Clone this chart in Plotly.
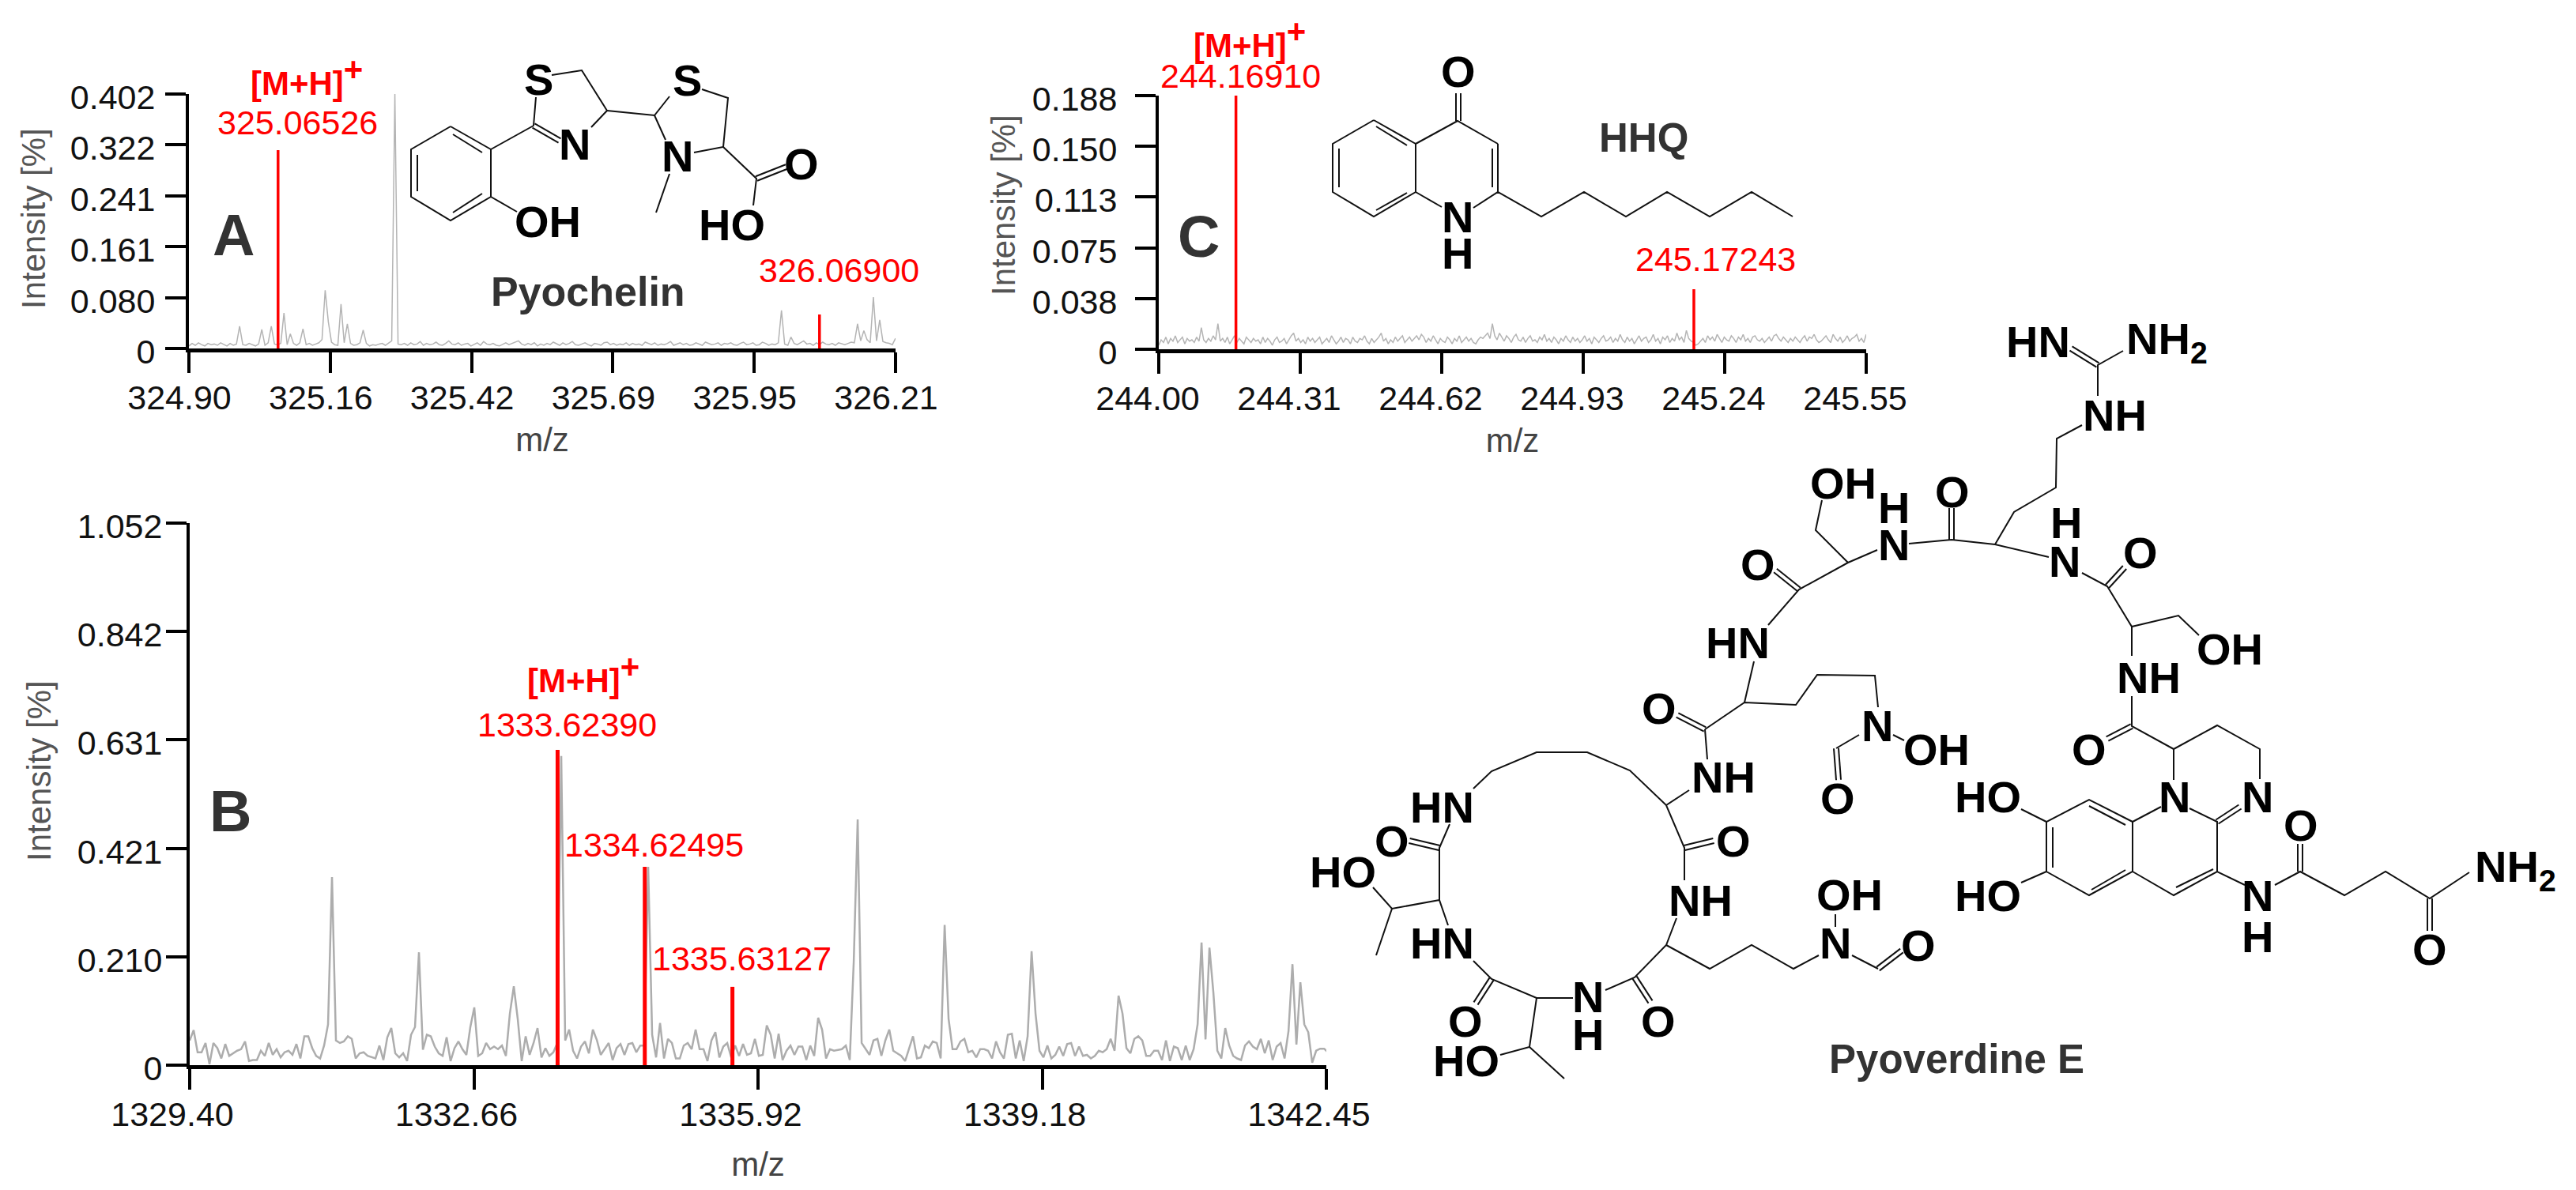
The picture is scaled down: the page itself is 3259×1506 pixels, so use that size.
import math
import numpy as np
import plotly.graph_objects as go

W, H = 3259, 1506
FONT = "Liberation Sans"

# ---------- spectra (intensity in thousandths of a percent, even m/z sampling) ----------
a_mz_start, a_mz_end = 324.90, 326.21
a_intensity = [
4,8,5,9,6,4,8,6,7,5, 9,6,4,8,5,7,35,6,5,8, 6,4,7,30,5,9,35,7,6,8,
56,6,23,8,5,9,31,6,8,5, 7,9,14,92,42,10,6,5,70,9, 39,8,5,6,9,29,8,4,6,5,
7,8,5,9,12,402,7,6,8,5, 9,6,7,11,5,8,6,7,10,6, 5,8,12,7,6,9,5,7,8,4,
6,9,5,11,7,6,8,5,4,7, 9,6,8,10,12,7,5,8,6,9, 4,7,5,8,6,10,7,5,9,6,
8,11,6,5,7,9,6,4,8,7, 5,9,10,6,8,5,7,6,9,5, 8,6,7,5,10,8,6,9,5,7,
6,8,11,5,7,9,6,8,5,6, 9,7,5,10,8,6,7,9,5,8, 7,9,6,5,8,10,6,7,9,5,
6,10,8,5,7,6,9,60,7,5,
18,8,6,9,12,7,8,5,9,6, 10,7,6,8,5,9,7,6,8,10, 9,39,12,28,14,9,81,12,45,11,
9,8,6,16
]

c_mz_start, c_mz_end = 244.00, 245.55
c_intensity = [
3,7,5,9,4,8,6,10,5,7, 9,4,8,6,7,5,9,6,16,7, 5,8,6,10,7,19,6,8,5,9,
4,7,10,5,8,6,4,9,7,5, 8,6,7,4,9,5,8,6,3,7, 9,5,6,8,4,7,10,12,6,8,
5,7,4,9,6,8,5,7,9,4, 6,8,5,10,7,4,6,9,5,8, 7,4,9,6,5,8,7,10,6,4,
8,5,7,9,12,6,8,4,7,5, 9,6,8,10,5,7,9,6,8,10, 7,11,9,5,8,6,10,7,4,8,
6,5,9,7,4,8,6,10,5,7, 9,6,8,5,4,7,9,8,10,12, 8,19,10,7,12,9,6,10,8,5,
9,11,7,6,9,5,8,10,6,7, 5,9,7,11,6,8,5,9,7,4, 8,6,10,7,5,9,6,8,5,7,
10,6,8,4,9,7,5,8,10,6, 7,9,5,8,6,11,7,5,9,6, 8,4,7,10,6,8,9,5,7,11,
6,8,4,9,7,10,5,8,6,12, 7,9,5,14,8,6,5,3,4,6, 8,5,10,7,9,6,11,8,5,9,
7,6,10,8,5,9,7,11,6,8, 5,9,10,7,6,8,5,7,9,6, 10,11,8,6,9,7,5,8,6,9,
7,5,8,10,6,9,8,11,7,5, 6,8,10,7,5,11,8,6,9,5, 7,10,6,8,9,11,6,8,5,11
]

b_mz_start, b_step = 1329.40, 0.04538
b_intensity = [
48,68,25,25,43,2,43,33,13,41,18,23,28,31,46,8,10,10,28,18,43,20,31,15,
25,28,20,41,13,56,56,33,18,13,38,79,365,48,43,46,56,51,13,23,25,18,15,13,
38,10,54,72,23,15,23,8,59,74,219,30,59,56,36,23,18,54,8,33,46,31,20,74,
112,18,23,43,31,36,31,38,18,100,153,89,8,56,20,43,72,15,33,18,25,43,600,48,
69,28,13,36,46,23,69,49,20,31,43,10,33,41,20,41,43,25,38,38,385,59,15,82,
13,51,43,13,13,38,43,31,69,31,31,8,48,64,15,36,43,15,38,18,41,20,23,51,
18,20,77,59,13,61,10,28,38,20,36,36,10,38,18,92,69,13,31,28,29,31,38,10,
200,477,43,31,20,48,51,18,48,69,28,23,18,8,31,56,13,15,38,33,46,43,13,272,
90,31,31,46,51,25,28,15,31,31,28,13,46,25,13,59,61,13,48,8,56,221,100,28,
15,38,13,20,36,18,41,43,18,36,18,20,13,18,28,25,31,51,28,135,100,33,23,51,
56,48,18,18,28,28,10,48,8,36,33,10,38,10,31,79,238,50,228,140,28,13,72,38,
18,13,10,38,46,36,31,51,23,48,10,36,43,13,66,196,40,161,79,64,5,28,32,32,
25,20
]

# ---------- annotated isotope peaks ----------
a_peak_mz = [325.06526, 326.06900]
a_peak_int = [0.3134, 0.0537]
c_peak_mz = [244.16910, 245.17243]
c_peak_int = [0.188, 0.0445]
b_peak_mz = [1333.62390, 1334.62495, 1335.63127]
b_peak_int = [0.612, 0.385, 0.152]

# ---------- axis ticks ----------
a_xticks = [324.90, 325.162, 325.424, 325.686, 325.948, 326.21]
a_xlabels = ["324.90", "325.16", "325.42", "325.69", "325.95", "326.21"]
a_yticks = [0, 0.0804, 0.1608, 0.2412, 0.3216, 0.402]
a_ylabels = ["0", "0.080", "0.161", "0.241", "0.322", "0.402"]
c_xticks = [244.00, 244.31, 244.62, 244.93, 245.24, 245.55]
c_xlabels = ["244.00", "244.31", "244.62", "244.93", "245.24", "245.55"]
c_yticks = [0, 0.0376, 0.0752, 0.1128, 0.1504, 0.188]
c_ylabels = ["0", "0.038", "0.075", "0.113", "0.150", "0.188"]
b_xticks = [1329.40, 1332.6625, 1335.925, 1339.1875, 1342.45]
b_xlabels = ["1329.40", "1332.66", "1335.92", "1339.18", "1342.45"]
b_yticks = [0, 0.2104, 0.4208, 0.6312, 0.8416, 1.052]
b_ylabels = ["0", "0.210", "0.421", "0.631", "0.842", "1.052"]

# ---------- structures: bond polylines on the page ----------
single_bonds = [
 # pyochelin
 [(570,160),(621,189),(621,249),(570,279),(520,249),(520,189),(570,160)],
 [(573,170),(610,193)], [(528,196),(528,242)], [(610,245),(573,269)],
 [(621,189),(675,159),(678,123)], [(698,95),(736,89),(768,140),(748,161)],
 [(768,140),(828,146),(847,122)], [(888,113),(921,124),(915,186),(878,193)],
 [(828,146),(842,177)], [(847,220),(830,269)], [(915,186),(957,226),(953,260)],
 [(621,249),(654,268)],
 # HHQ
 [(1738,152),(1791,182),(1791,243),(1738,274),(1686,243),(1686,182),(1738,152)],
 [(1741,160),(1780,184)], [(1694,188),(1694,237)], [(1741,266),(1780,244)],
 [(1791,182),(1844,153),(1895,182)], [(1791,243),(1824,262)],
 [(1864,263),(1895,243),(1950,274),(2004,243),(2057,274),(2109,243),(2163,274),(2216,243),(2268,274)],
 [(1895,182),(1895,243)], [(1888,188),(1888,237)],
 # pyoverdine: macrocycle
 [(1864,998),(1887,976),(1944,952),(2008,952),(2062,975),(2108,1019),(2131,1073),(2131,1114)],
 [(2108,1019),(2137,1000)],
 [(2121,1162),(2108,1196),(2068,1237),(2031,1253)],
 [(1990,1263),(1944,1263),(1887,1239),(1864,1216)],
 [(1944,1263),(1935,1325),(1898,1335)], [(1935,1325),(1979,1365)],
 [(1832,1171),(1821,1139),(1821,1073),(1834,1043)],
 [(1821,1139),(1761,1150),(1737,1123)], [(1761,1150),(1741,1209)],
 [(2108,1196),(2163,1226),(2216,1196),(2269,1226),(2301,1209)],
 [(2322,1173),(2322,1157)], [(2343,1209),(2376,1226)],
 # pyoverdine: upper chain
 [(2157,923),(2160,961)], [(2157,923),(2207,889),(2272,892),(2299,854),(2372,855),(2376,895)],
 [(2352,930),(2323,947)], [(2395,930),(2409,937)],
 [(2207,889),(2219,837)], [(2237,791),(2276,746),(2338,712),(2375,696)],
 [(2338,712),(2297,671),(2305,633)],
 [(2415,688),(2469,683),(2524,689),(2592,705)],
 [(2524,689),(2548,648),(2601,617),(2602,555),(2634,538)],
 [(2654,501),(2654,462),(2686,444)],
 [(2634,725),(2666,742),(2697,793),(2756,779),(2782,804)],
 [(2697,793),(2697,830)], [(2697,881),(2697,919),(2750,948),(2805,918),(2859,948),(2859,986)],
 [(2750,948),(2750,987)],
 [(2770,1023),(2805,1040),(2805,1103)], [(2734,1021),(2698,1040)],
 [(2698,1040),(2643,1012),(2589,1040),(2589,1103),(2643,1133),(2698,1103),(2698,1040)],
 [(2643,1020),(2689,1044)], [(2597,1047),(2597,1098)], [(2646,1126),(2689,1101)],
 [(2698,1103),(2750,1133),(2805,1103),(2840,1120)], [(2753,1123),(2800,1100)],
 [(2557,1024),(2589,1040)], [(2557,1117),(2589,1103)],
 [(2878,1120),(2910,1103),(2966,1133),(3018,1103),(3074,1137),(3124,1104)],
]
double_bonds = [
 ((675,159),(708,178)), ((957,226),(995,211)), ((1845,118),(1845,153)),
 ((2131,1073),(2168,1064)), ((2068,1237),(2088,1268)), ((1887,1239),(1867,1270)),
 ((1821,1073),(1783,1064)), ((2376,1226),(2406,1203)), ((2157,923),(2122,905)),
 ((2323,947),(2326,987)), ((2276,746),(2246,722)), ((2469,683),(2469,643)),
 ((2654,462),(2620,441)), ((2666,742),(2688,718)), ((2697,919),(2666,935)),
 ((2805,1040),(2834,1021)), ((2910,1103),(2910,1068)), ((3074,1137),(3074,1178)),
]
atom_labels = [
 ("S",681,100),("N",727,182),("S",869,101),("N",857,197),("O",1014,207),("HO",926,284),("OH",693,280),
 ("O",1845,90),("N",1844,274),("H",1844,320),
 ("HN",1824,1021),("O",1761,1064),("HO",1699,1103),("HN",1824,1193),("O",1854,1292),("HO",1855,1342),
 ("N",2009,1261),("H",2009,1309),("O",2098,1292),("NH",2151,1139),("O",2193,1064),("NH",2180,983),
 ("O",2099,896),("N",2375,918),("OH",2450,948),("O",2325,1010),("OH",2340,1132),("N",2322,1193),("O",2427,1196),
 ("HN",2198,813),("O",2224,714),("OH",2332,611),("H",2396,642),("N",2396,689),("O",2470,622),
 ("HN",2578,432),("NH<sub>2</sub>",2741,432),("NH",2675,525),("H",2614,661),("N",2612,710),("O",2708,699),
 ("OH",2821,821),("NH",2718,857),("O",2643,948),("N",2856,1008),("N",2751,1008),
 ("HO",2515,1008),("HO",2515,1133),("N",2856,1133),("H",2856,1185),("O",2911,1044),("O",3074,1201),
 ("NH<sub>2</sub>",3182,1100),
]
bold_titles = [("Pyochelin",744,369,52),("HHQ",2079,174,51),("Pyoverdine E",2475,1340,51)]
panel_letters = [("A",295,297),("C",1516,299),("B",291,1026)]
red_labels = [
 ("325.06526",376,155),("326.06900",1061,342),("244.16910",1569,96),("245.17243",2170,328),
 ("1333.62390",717,917),("1334.62495",827,1069),("1335.63127",938,1213),
]
adduct_labels = [(376,96),(1569,48),(726,852)]
y_titles = [(42,277),(1269,260),(49,976)]

GRAY_THIN, GRAY_B = "#b4b4b4", "#adadad"

def sticks(xs, ys):
    ox, oy = [], []
    for x, y in zip(xs, ys):
        ox += [x, x, None]; oy += [0, y, None]
    return ox, oy

fig = go.Figure()

def panel(idx, box, xr, yr, xt, xl, yt, yl, mz, inten, pk_x, pk_y, gray, lw, redw, standoff, shift, ystand):
    l, t, r, b = box
    xa, ya = f"x{idx}", f"y{idx}"
    fig.add_trace(go.Scatter(x=mz, y=inten, xaxis=xa, yaxis=ya, mode="lines",
                             line=dict(color=gray, width=lw), showlegend=False, hoverinfo="skip"))
    px_, py_ = sticks(pk_x, pk_y)
    fig.add_trace(go.Scatter(x=px_, y=py_, xaxis=xa, yaxis=ya, mode="lines",
                             line=dict(color="#ff0000", width=redw), showlegend=False, hoverinfo="skip"))
    ax = dict(showgrid=False, zeroline=False, showline=True, linecolor="#000000", mirror=False,
              automargin=False,
              ticks="outside", tickcolor="#000000", tickwidth=4, ticklen=26,
              tickfont=dict(family=FONT, size=43, color="#111111"), tickmode="array")
    suffix = "" if idx == 1 else str(idx)
    fig.update_layout({
        f"xaxis{suffix}": dict(ax, domain=[l/W, r/W], range=xr, anchor=f"y{suffix}", tickvals=xt, ticktext=xl,
                               linewidth=5, ticklabelshift=shift, ticklabelstandoff=-6,
                               title=dict(text="m/z", standoff=standoff, font=dict(family=FONT, size=42, color="#444444"))),
        f"yaxis{suffix}": dict(ax, domain=[1-b/H, 1-t/H], range=yr, anchor=f"x{suffix}", tickvals=yt, ticktext=yl,
                               linewidth=4, ticklabelstandoff=ystand, ticklabelshift=4),
    })

a_x = a_mz_start + np.arange(len(a_intensity))*(a_mz_end-a_mz_start)/(len(a_intensity)-1)
c_x = c_mz_start + np.arange(len(c_intensity))*(c_mz_end-c_mz_start)/(len(c_intensity)-1)
b_x = b_mz_start + b_step*np.arange(len(b_intensity))

panel(1, (239,119,1133,441), [a_mz_start,a_mz_end], [0,0.402], a_xticks, a_xlabels, a_yticks, a_ylabels,
      a_x, np.array(a_intensity)/1000, a_peak_mz, a_peak_int, GRAY_THIN, 1.5, 3.5, 18, -12, 4)
panel(2, (1466,121,2361,442), [c_mz_start,c_mz_end], [0,0.188], c_xticks, c_xlabels, c_yticks, c_ylabels,
      c_x, np.array(c_intensity)/1000, c_peak_mz, c_peak_int, GRAY_THIN, 1.5, 3.5, 18, -14, 14)
panel(3, (240,662,1678,1348), [1329.40,1342.45], [0,1.052], b_xticks, b_xlabels, b_yticks, b_ylabels,
      b_x, np.array(b_intensity)/1000, b_peak_mz, b_peak_int, GRAY_B, 2.5, 5, 28, -22, -4)

# overlay page axes for the structures and loose labels
fig.update_layout(
    xaxis4=dict(domain=[0,1], range=[0,W], visible=False, anchor="y4", fixedrange=True, automargin=False),
    yaxis4=dict(domain=[0,1], range=[H,0], visible=False, anchor="x4", fixedrange=True, automargin=False),
)
bx, by = [], []
for line in single_bonds:
    for p in line:
        bx.append(p[0]); by.append(p[1])
    bx.append(None); by.append(None)
for p, q in double_bonds:
    dx, dy = q[0]-p[0], q[1]-p[1]
    n = math.hypot(dx, dy)
    ox, oy = -dy/n*3, dx/n*3
    for s in (1, -1):
        bx += [p[0]+s*ox, q[0]+s*ox, None]; by += [p[1]+s*oy, q[1]+s*oy, None]
fig.add_trace(go.Scatter(x=bx, y=by, xaxis="x4", yaxis="y4", mode="lines",
                         line=dict(color="#111111", width=2), showlegend=False, hoverinfo="skip"))

def note(text, x, y, size, color="#000000", bold=False, angle=0):
    fig.add_annotation(x=x, y=y, xref="x4", yref="y4", text=f"<b>{text}</b>" if bold else text, showarrow=False,
                       xanchor="center", yanchor="middle", textangle=angle,
                       font=dict(family=FONT, size=size, color=color))

for t, x, y in atom_labels:
    note(t, x, y, 56, bold=True)
for t, x, y, s in bold_titles:
    note(t, x, y, s, "#333333", True)
for t, x, y in panel_letters:
    note(t, x, y, 74, "#333333", True)
for t, x, y in red_labels:
    note(t, x, y, 43, "#ff0000")
for x, y in adduct_labels:
    note('[M+H]<sup><span style="font-size:42px">+</span></sup>', x+12, y, 42, "#ff0000", True)
for x, y in y_titles:
    note("Intensity [%]", x, y, 42, "#555555", angle=-90)

fig.update_layout(width=W, height=H, autosize=False, margin=dict(l=0,r=0,t=0,b=0),
                  paper_bgcolor="white", plot_bgcolor="rgba(0,0,0,0)", showlegend=False)
fig.write_html("out.html", config={"displayModeBar": False},
               post_script="document.body.style.margin='0';document.body.style.overflow='hidden';")
